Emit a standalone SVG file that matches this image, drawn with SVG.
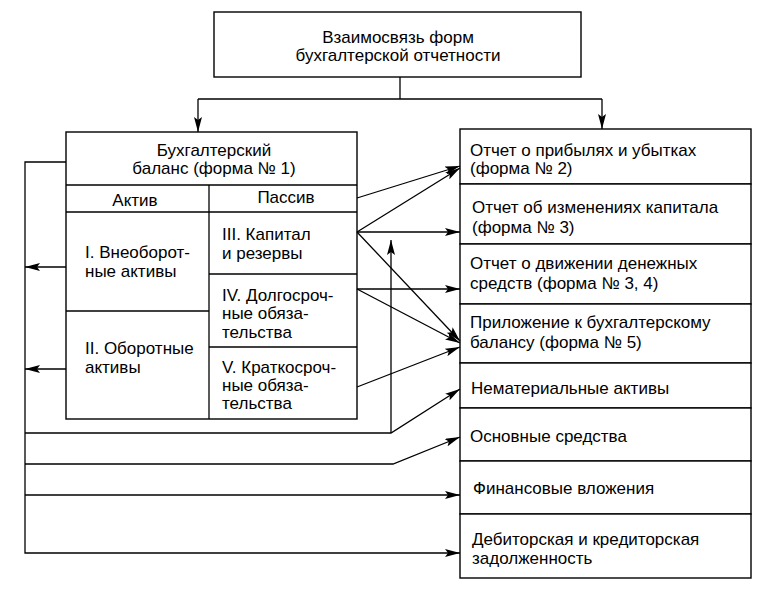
<svg xmlns="http://www.w3.org/2000/svg" width="778" height="594" viewBox="0 0 778 594">
<defs>
<style>
.box{fill:#fff;stroke:#000;stroke-width:1.4}
.ln{fill:none;stroke:#000;stroke-width:1.3}
.t{font-family:"Liberation Sans",Arial,sans-serif;font-size:17px;fill:#000}
.c{text-anchor:middle}
</style>
<marker id="ah" markerUnits="userSpaceOnUse" markerWidth="15" markerHeight="8" refX="15" refY="4" orient="auto">
<path d="M0,0 L15,4 L0,8 L3,4 z" fill="#000"/>
</marker>
</defs>
<rect width="778" height="594" fill="#fff"/>

<g id="top">
<rect class="box" x="214" y="12" width="367" height="65"/>
<text class="t c" x="398" y="43">Взаимосвязь форм</text>
<text class="t c" x="398" y="61">бухгалтерской отчетности</text>
</g>

<g id="balance">
<rect class="box" x="66" y="132" width="291" height="287"/>
<line class="ln" x1="66" y1="185" x2="357" y2="185"/>
<line class="ln" x1="66" y1="212" x2="357" y2="212"/>
<line class="ln" x1="209" y1="185" x2="209" y2="419"/>
<line class="ln" x1="66" y1="311" x2="209" y2="311"/>
<line class="ln" x1="209" y1="274" x2="357" y2="274"/>
<line class="ln" x1="209" y1="347" x2="357" y2="347"/>
<text class="t c" x="214" y="156">Бухгалтерский</text>
<text class="t c" x="214" y="174">баланс (форма № 1)</text>
<text class="t c" x="135" y="206">Актив</text>
<text class="t c" x="286" y="203">Пассив</text>
</g>
<g id="aktiv1"><text class="t" x="85" y="258">I. Внеоборот-</text><text class="t" x="85" y="277">ные активы</text></g>
<g id="aktiv2"><text class="t" x="85" y="354">II. Оборотные</text><text class="t" x="85" y="373">активы</text></g>
<g id="passiv3"><text class="t" x="222" y="240">III. Капитал</text><text class="t" x="222" y="259">и резервы</text></g>
<g id="passiv4"><text class="t" x="222" y="301">IV. Долгосроч-</text><text class="t" x="222" y="319">ные обяза-</text><text class="t" x="222" y="338">тельства</text></g>
<g id="passiv5"><text class="t" x="222" y="373">V. Краткосроч-</text><text class="t" x="222" y="391">ные обяза-</text><text class="t" x="222" y="409">тельства</text></g>

<g id="f2"><rect class="box" x="460" y="129" width="291" height="55"/><text class="t" x="470" y="156">Отчет о прибылях и убытках</text><text class="t" x="470" y="174">(форма № 2)</text></g>
<g id="f3"><rect class="box" x="460" y="184" width="291" height="60"/><text class="t" x="472" y="213">Отчет об изменениях капитала</text><text class="t" x="472" y="233">(форма № 3)</text></g>
<g id="f4"><rect class="box" x="460" y="244" width="291" height="60"/><text class="t" x="470" y="269">Отчет о движении денежных</text><text class="t" x="470" y="289">средств (форма № 3, 4)</text></g>
<g id="f5"><rect class="box" x="460" y="304" width="291" height="59"/><text class="t" x="470" y="328">Приложение к бухгалтерскому</text><text class="t" x="470" y="348">балансу (форма № 5)</text></g>
<g id="nma"><rect class="box" x="460" y="363" width="291" height="45"/><text class="t" x="471" y="394">Нематериальные активы</text></g>
<g id="os"><rect class="box" x="460" y="408" width="291" height="53"/><text class="t" x="470" y="442">Основные средства</text></g>
<g id="fv"><rect class="box" x="460" y="461" width="291" height="53"/><text class="t" x="473" y="494">Финансовые вложения</text></g>
<g id="dz"><rect class="box" x="460" y="514" width="291" height="64"/><text class="t" x="472" y="545">Дебиторская и кредиторская</text><text class="t" x="472" y="564">задолженность</text></g>

<g id="connectors">
<polyline class="ln" points="400,77 400,99"/>
<polyline class="ln" points="198,99 602,99"/>
<line class="ln" x1="198" y1="99" x2="198" y2="132" marker-end="url(#ah)"/>
<line class="ln" x1="602" y1="99" x2="602" y2="129" marker-end="url(#ah)"/>

<polyline class="ln" points="66,162 25,162 25,553 460,553" marker-end="url(#ah)"/>
<line class="ln" x1="66" y1="267" x2="25" y2="267" marker-end="url(#ah)"/>
<line class="ln" x1="66" y1="369" x2="25" y2="369" marker-end="url(#ah)"/>
<polyline class="ln" points="25,433 391,433 460,389" marker-end="url(#ah)"/>
<polyline class="ln" points="25,464 393,464 460,437" marker-end="url(#ah)"/>
<line class="ln" x1="25" y1="495" x2="460" y2="495" marker-end="url(#ah)"/>
<line class="ln" x1="391" y1="433" x2="391" y2="240" marker-end="url(#ah)"/>

<line class="ln" x1="357" y1="198" x2="460" y2="166" marker-end="url(#ah)"/>
<line class="ln" x1="357" y1="232" x2="460" y2="168" marker-end="url(#ah)"/>
<line class="ln" x1="357" y1="232" x2="460" y2="232" marker-end="url(#ah)"/>
<line class="ln" x1="357" y1="232" x2="460" y2="341" marker-end="url(#ah)"/>
<line class="ln" x1="357" y1="289" x2="460" y2="289" marker-end="url(#ah)"/>
<line class="ln" x1="357" y1="289" x2="460" y2="343" marker-end="url(#ah)"/>
<line class="ln" x1="357" y1="387" x2="460" y2="347" marker-end="url(#ah)"/>
</g>
</svg>
